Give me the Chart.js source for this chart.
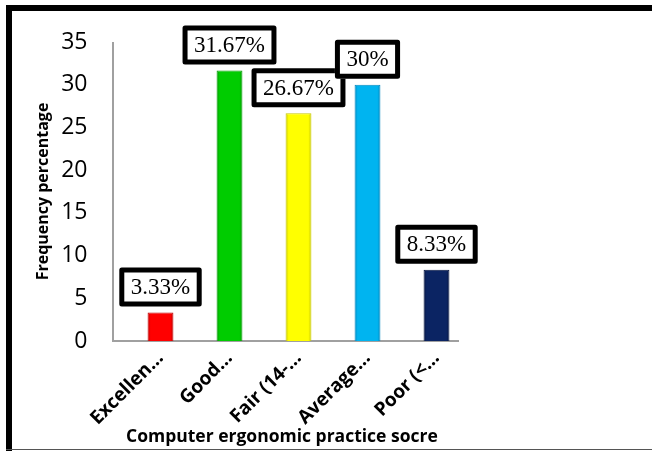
<!DOCTYPE html>
<html>
<head>
<meta charset="utf-8">
<script src="https://cdn.jsdelivr.net/npm/chart.js@4"></script>
<style>
  html, body { margin: 0; padding: 0; background: #fff; }
  #wrap { position: relative; width: 652px; height: 451px; overflow: hidden; }
  #frameTop { position: absolute; left: 6px; top: 5px; width: 646px; height: 6px; background: #000; }
  #frameLeft { position: absolute; left: 6px; top: 5px; width: 6px; height: 446px; background: #000; }
  #frameBottom { position: absolute; left: 6px; top: 449px; width: 646px; height: 1px; background: #555; }
  canvas { position: absolute; left: 0; top: 0; }
</style>
</head>
<body>
<div id="wrap">
  <canvas id="c" width="652" height="451"></canvas>
  <div id="frameTop"></div>
  <div id="frameLeft"></div>
  <div id="frameBottom"></div>
</div>
<script>
const categories = ["Excellen\u2026", "Good\u2026", "Fair (14-\u2026", "Average\u2026", "Poor (<\u2026"];
const values = [3.33, 31.67, 26.67, 30, 8.33];
const valueLabels = ["3.33%", "31.67%", "26.67%", "30%", "8.33%"];
const yTicks = [0, 5, 10, 15, 20, 25, 30, 35];
const barColors = ["#ff0000", "#00cc00", "#ffff00", "#00b4f0", "#0b2463"];
const barEdges = ["#c00000", "#009a00", "#c8c800", "#0088c0", "#051440"];

const BAR_PCT = 0.75, CAT_PCT = 0.5;

function barFill(ctx) {
  const chart = ctx.chart;
  const xs = chart.scales && chart.scales.x;
  const c = barColors[ctx.dataIndex], e = barEdges[ctx.dataIndex];
  if (!xs || !isFinite(xs.width) || xs.width <= 0) return c;
  const cx = xs.getPixelForValue(ctx.dataIndex);
  const half = (xs.width / categories.length) * BAR_PCT * CAT_PCT / 2;
  if (!isFinite(cx) || !isFinite(half) || half <= 0) return c;
  const g = chart.ctx.createLinearGradient(cx - half, 0, cx + half, 0);
  g.addColorStop(0, e);
  g.addColorStop(0.12, c);
  g.addColorStop(0.88, c);
  g.addColorStop(1, e);
  return g;
}

// Axis lines drawn slightly outside the category band, as in the original
const axisLines = {
  id: 'axisLines',
  beforeDatasetsDraw(chart) {
    const { ctx, chartArea: a } = chart;
    const x0 = a.left - 13, x1 = a.right - 12;
    ctx.save();
    ctx.strokeStyle = '#a0a0a0';
    ctx.lineWidth = 2;
    ctx.beginPath();
    ctx.moveTo(x0, a.top);
    ctx.lineTo(x0, a.bottom);
    ctx.lineTo(x1, a.bottom);
    ctx.stroke();
    ctx.restore();
  }
};

const labelBoxes = {
  id: 'labelBoxes',
  afterDatasetsDraw(chart) {
    const ctx = chart.ctx;
    const meta = chart.getDatasetMeta(0);
    ctx.save();
    ctx.font = '23px "Liberation Serif", "Times New Roman", serif';
    meta.data.forEach((bar, i) => {
      const text = valueLabels[i];
      const tw = ctx.measureText(text).width;
      const w = tw + 23, h = 39;
      const bottom = bar.y - 6;
      const left = bar.x - w / 2, top = bottom - h;
      ctx.fillStyle = '#fff';
      ctx.fillRect(left, top, w, h);
      ctx.lineWidth = 5;
      ctx.strokeStyle = '#000';
      ctx.lineJoin = 'round';
      ctx.strokeRect(left + 2.5, top + 2.5, w - 5, h - 5);
      ctx.fillStyle = '#000';
      ctx.textAlign = 'center';
      ctx.textBaseline = 'middle';
      ctx.fillText(text, bar.x, top + h / 2 + 1);
    });
    ctx.restore();
  }
};

new Chart(document.getElementById('c'), {
  type: 'bar',
  data: {
    labels: categories,
    datasets: [{
      data: values,
      backgroundColor: barFill,
      borderColor: barEdges,
      borderWidth: 1,
      barPercentage: BAR_PCT,
      categoryPercentage: CAT_PCT
    }]
  },
  options: {
    responsive: false,
    animation: false,
    devicePixelRatio: 1,
    layout: { padding: { left: 12, top: 42, right: 181, bottom: 0 } },
    plugins: { legend: { display: false }, tooltip: { enabled: false } },
    scales: {
      x: {
        grid: { display: false, drawTicks: false },
        border: { display: false },
        ticks: {
          color: '#000',
          maxRotation: 45, minRotation: 45,
          padding: 6,
          autoSkip: false,
          font: { family: '"Open Sans", sans-serif', size: 19, weight: 'bold' }
        },
        title: {
          display: true,
          text: 'Computer ergonomic practice socre',
          align: 'start',
          color: '#000',
          padding: { top: 0, bottom: 3 },
          font: { family: '"Open Sans", sans-serif', size: 17.5, weight: 'bold' }
        },
        afterFit(s) { s.height = 110; }
      },
      y: {
        min: 0, max: 35,
        afterBuildTicks(s) { s.ticks = yTicks.map(v => ({ value: v })); },
        grid: { display: false, drawTicks: false },
        border: { display: false },
        ticks: {
          color: '#000',
          padding: 27,
          callback: v => v + '\u2002',
          font: { family: '"Open Sans", sans-serif', size: 23 }
        },
        title: {
          display: true,
          text: 'Frequency percentage',
          color: '#000',
          padding: { top: 22, bottom: 0 },
          font: { family: '"Open Sans", sans-serif', size: 16, weight: 'bold' }
        },
        afterFit(s) { s.width = 114; }
      }
    }
  },
  plugins: [axisLines, labelBoxes]
});
</script>
</body>
</html>
